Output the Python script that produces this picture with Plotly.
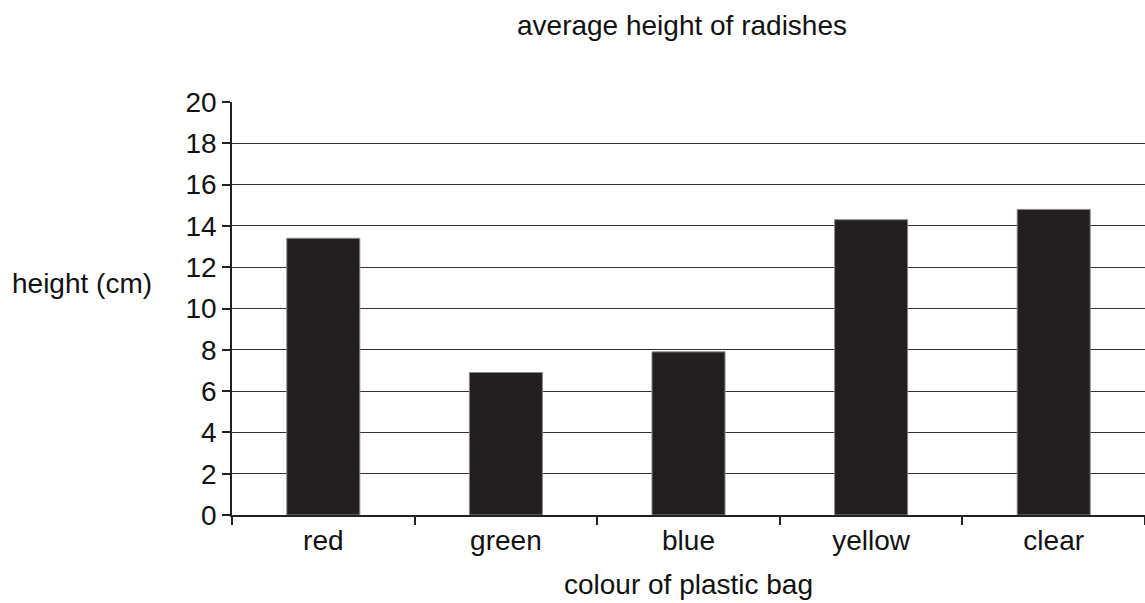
import plotly.graph_objects as go

# average radish height per bag colour
colours = ["red", "green", "blue", "yellow", "clear"]
heights = [13.4, 6.9, 7.9, 14.3, 14.8]
y_ticks = [0, 2, 4, 6, 8, 10, 12, 14, 16, 18, 20]

FONT = "Liberation Sans, Arial, Helvetica, sans-serif"
FS = 28

fig = go.Figure(
    go.Bar(
        x=colours,
        y=heights,
        width=0.4,
        marker=dict(color="#231f20", line=dict(color="#8a8a8a", width=1)),
    )
)

fig.update_layout(
    width=1145,
    height=603,
    margin=dict(l=232, r=0, t=102, b=88),
    paper_bgcolor="white",
    plot_bgcolor="white",
    showlegend=False,
    font=dict(family=FONT, size=FS, color="#111"),
    title=dict(
        text="average height of radishes",
        x=682 / 1145,
        xanchor="center",
        y=1 - 25 / 603,
        yanchor="middle",
        font=dict(size=FS),
    ),
)

fig.update_xaxes(
    type="category",
    range=[-0.5, 4.5],
    showline=True,
    linecolor="#222",
    linewidth=1.5,
    ticks="outside",
    tickson="boundaries",
    ticklen=8,
    tickwidth=1.5,
    tickcolor="#222",
    showgrid=False,
    title=dict(text="colour of plastic bag", standoff=19, font=dict(size=FS)),
    tickfont=dict(size=FS),
)

fig.update_yaxes(
    range=[0, 20],
    tickvals=y_ticks,
    ticksuffix=" ",
    showline=True,
    linecolor="#222",
    linewidth=1.5,
    ticks="outside",
    ticklen=8,
    tickwidth=1.5,
    tickcolor="#222",
    showgrid=True,
    gridcolor="#333",
    gridwidth=1,
    zeroline=False,
    tickfont=dict(size=FS),
)

fig.add_annotation(
    text="height (cm)",
    xref="paper",
    yref="paper",
    x=-232 / (1145 - 232) + 10 / (1145 - 232),
    xanchor="left",
    y=(514.7 - 283) / (514.7 - 101.7),
    yanchor="middle",
    showarrow=False,
    font=dict(size=FS),
)

fig.write_html("out.html")
